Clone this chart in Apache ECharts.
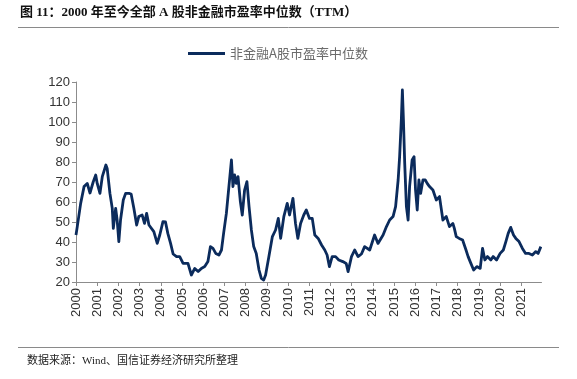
<!DOCTYPE html>
<html>
<head>
<meta charset="utf-8">
<script src="https://cdn.jsdelivr.net/npm/echarts@6/dist/echarts.min.js"></script>
<style>
html,body{margin:0;padding:0;background:#fff;}
#chart{width:577px;height:379px;}
</style>
</head>
<body>
<div id="chart"></div>
<script>
var titleText = '图 11：2000 年至今全部 A 股非金融市盈率中位数（TTM）';
var sourceText = '数据来源：Wind、国信证券经济研究所整理';
var seriesName = '非金融A股市盈率中位数';
var yTicks = [20, 30, 40, 50, 60, 70, 80, 90, 100, 110, 120];
var yearLabels = [2000,2001,2002,2003,2004,2005,2006,2007,2008,2009,2010,2011,2012,2013,2014,2015,2016,2017,2018,2019,2020,2021];

var dates = [
2000.00,2000.06,2000.22,2000.38,2000.53,2000.66,2000.81,2000.93,2001.00,2001.13,2001.24,2001.41,2001.47,2001.60,2001.71,2001.76,2001.87,2001.94,
2002.02,2002.10,2002.23,2002.34,2002.50,2002.60,2002.73,2002.86,2002.96,2003.12,2003.23,2003.33,2003.44,2003.67,2003.83,2003.95,
2004.10,2004.22,2004.33,2004.46,2004.58,2004.74,2004.89,2005.05,2005.28,2005.44,2005.60,2005.76,2005.91,2006.07,2006.22,2006.34,2006.46,2006.59,2006.74,2006.86,2006.96,
2007.09,2007.21,2007.33,2007.40,2007.48,2007.56,2007.64,2007.75,2007.84,2007.95,2008.06,2008.16,2008.27,2008.38,2008.50,2008.63,2008.74,2008.85,2008.94,
2009.10,2009.26,2009.41,2009.54,2009.65,2009.80,2009.96,2010.07,2010.23,2010.35,2010.46,2010.59,2010.74,2010.86,2011.01,2011.14,2011.26,2011.42,2011.58,2011.73,2011.84,2011.95,
2012.08,2012.24,2012.39,2012.58,2012.74,2012.83,2012.99,2013.14,2013.30,2013.46,2013.61,2013.69,2013.85,2014.08,2014.24,2014.48,2014.64,2014.79,2014.95,
2015.07,2015.19,2015.26,2015.34,2015.39,2015.44,2015.50,2015.58,2015.66,2015.73,2015.85,2015.94,2016.01,2016.09,2016.17,2016.25,2016.36,2016.47,2016.56,2016.67,2016.83,2016.99,
2017.14,2017.30,2017.46,2017.61,2017.77,2017.84,2017.93,2018.07,2018.23,2018.39,2018.49,2018.62,2018.75,2018.90,2019.06,2019.17,2019.28,2019.40,2019.56,2019.67,2019.83,
2020.00,2020.15,2020.27,2020.38,2020.50,2020.63,2020.74,2020.89,2021.05,2021.20,2021.36,2021.52,2021.68,2021.79,2021.92
];
var values = [
43.5,47.7,59.3,67.7,69.3,64.5,70,73.5,69.3,64.3,72.7,78.5,76.8,64.3,56.8,46.8,56.8,51,
40.2,51,61,64.3,64.3,64,56.8,48.5,52.7,53.5,49.3,54.3,48.5,45.2,39.3,43.5,
50.2,50,44.3,39.3,34,32.7,32.7,29.3,29.3,23.5,26.8,25.2,26.8,27.7,30.2,37.7,36.8,34.3,33.5,36,44.3,
54.3,67.7,81,67.7,73.5,69.3,72.7,60.2,53.5,66,70.2,57.7,46,37.7,34.3,26,21.8,21,23.5,
33,42.7,46,51.8,41.8,52.7,59.3,53.5,61.8,49.3,41.8,49.3,53.5,56,51.8,51.8,43.5,41.8,38.5,36,33.5,27.7,
32.7,32.7,31,30.2,29.3,25.2,32.7,36,32.7,34,37.7,38.5,36,43.5,39.3,43.5,47.7,51,52.7,
57.7,71,82.7,101,116,101,79.3,57.7,51,67.7,81,82.7,66,56,71,64.3,71,71,69.3,67.7,66,61,
62.7,51,52.7,47.7,49.3,46.8,42.7,41.8,41,36,32.7,29.3,26,27.7,26.8,36.8,31,32.7,31,32.7,31,
34.3,36,40.2,44.3,47.3,43.5,41.8,40.2,36.8,34.3,34.3,33.5,35.2,34.3,37.7
];

var seriesData = dates.map(function(d, i){ return [d, values[i]]; });

var chart = echarts.init(document.getElementById('chart'), null, {renderer: 'canvas'});
var axisColor = '#8c8c8c';
var labelFont = 'Arial, "Liberation Sans", sans-serif';
chart.setOption({
  animation: false,
  backgroundColor: '#fff',
  graphic: [
    {type: 'text', left: 20, top: 6, style: {text: titleText, font: 'bold 13px "Liberation Serif", "Noto Sans CJK SC", serif', fill: '#111'}},
    {type: 'line', shape: {x1: 18, y1: 27.5, x2: 559, y2: 27.5}, style: {stroke: '#8a8a8a', lineWidth: 1}},
    {type: 'line', shape: {x1: 18, y1: 347.5, x2: 559, y2: 347.5}, style: {stroke: '#8a8a8a', lineWidth: 1}},
    {type: 'text', left: 27, top: 356, style: {text: sourceText, font: '11px "Liberation Serif", "Noto Sans CJK SC", serif', fill: '#222'}}
  ],
  legend: {
    left: 183, top: 42,
    data: [{name: seriesName, icon: 'rect'}],
    itemWidth: 37, itemHeight: 3, itemGap: 4,
    textStyle: {fontSize: 13, color: '#6b6b6b', fontFamily: '"Noto Sans CJK SC", sans-serif'}
  },
  grid: {left: 76, right: 35.5, top: 82, bottom: 97, containLabel: false},
  xAxis: {
    type: 'value', min: 2000, max: 2021.95, interval: 1,
    axisLine: {show: true, lineStyle: {color: axisColor, width: 1}},
    axisTick: {show: true, length: 4, lineStyle: {color: axisColor}},
    splitLine: {show: false},
    axisLabel: {rotate: 90, showMaxLabel: false, margin: 6, fontSize: 13, color: '#333', fontFamily: labelFont,
      formatter: function(v){ var y = Math.round(v); return yearLabels.indexOf(y) >= 0 ? String(y) : ''; }}
  },
  yAxis: {
    type: 'value', min: yTicks[0], max: yTicks[yTicks.length-1], interval: 10,
    axisLine: {show: true, lineStyle: {color: axisColor, width: 1}},
    axisTick: {show: true, length: 4, lineStyle: {color: axisColor}},
    splitLine: {show: false},
    axisLabel: {fontSize: 13, color: '#333', margin: 6, fontFamily: labelFont}
  },
  series: [{
    name: seriesName, type: 'line', data: seriesData,
    showSymbol: false, symbol: 'none',
    lineStyle: {color: '#0b2b5c', width: 2.8, join: 'round'},
    itemStyle: {color: '#0b2b5c'}
  }]
});
</script>
</body>
</html>
